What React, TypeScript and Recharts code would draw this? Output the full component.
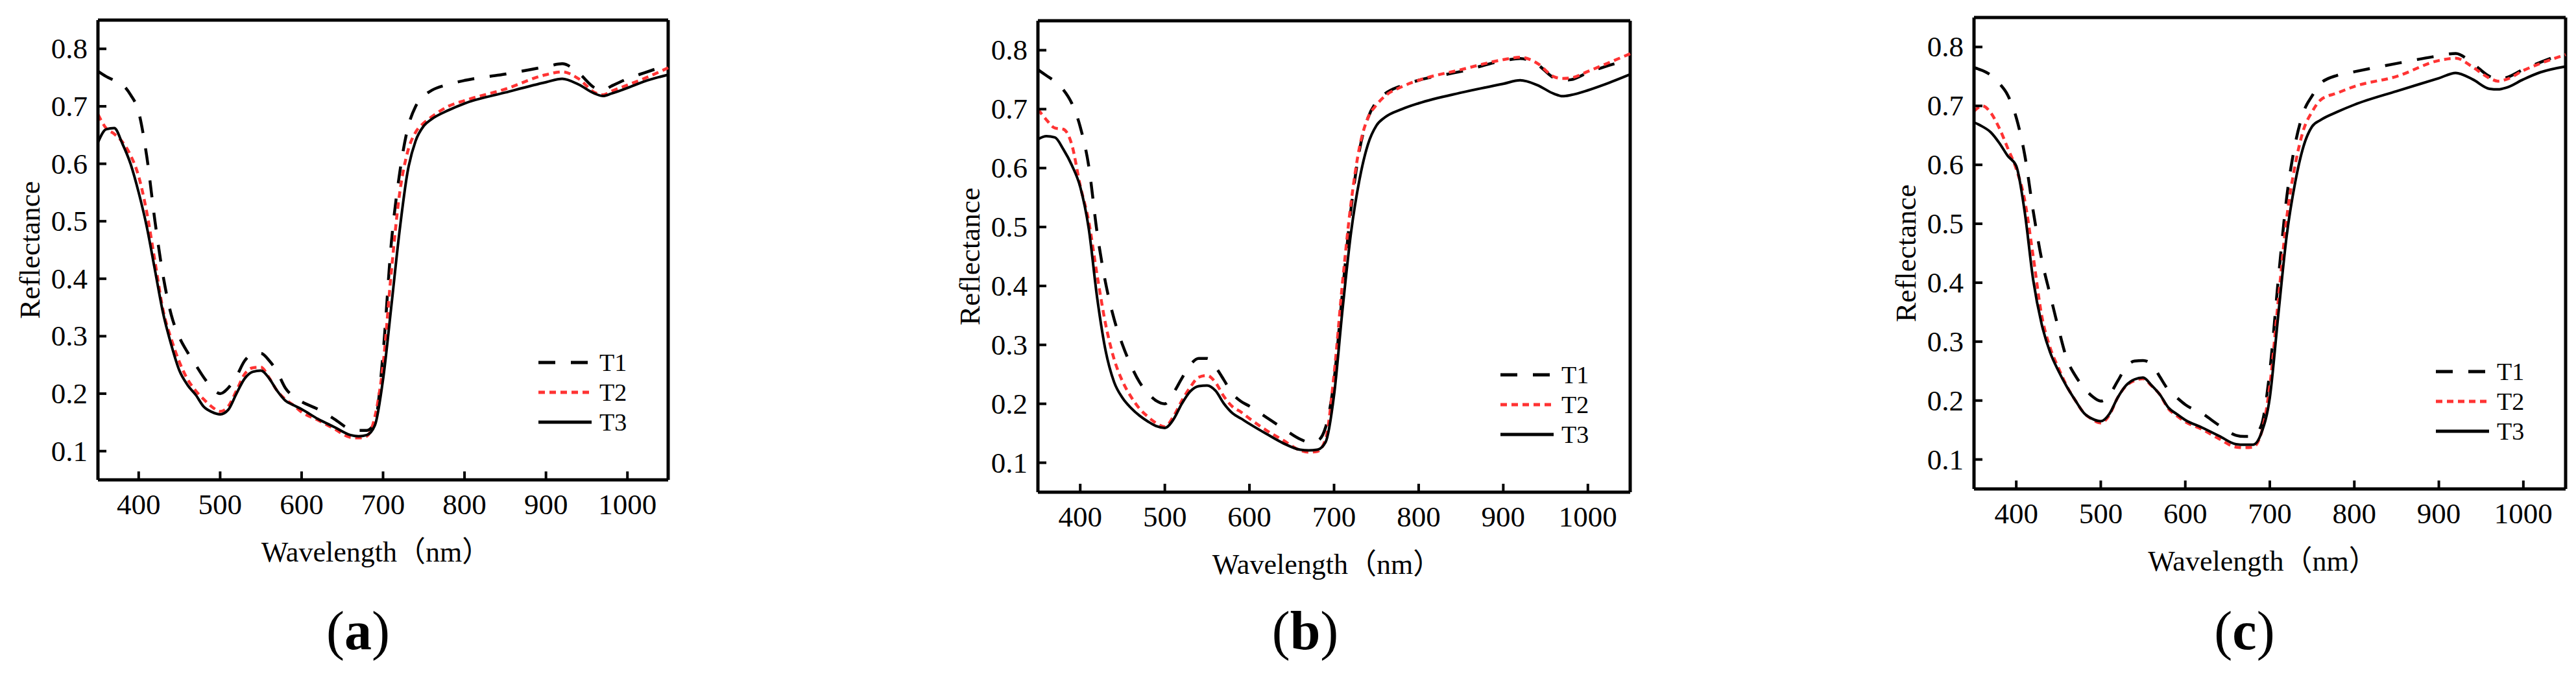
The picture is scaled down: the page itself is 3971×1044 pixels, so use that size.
import { LineChart, Line, XAxis, YAxis, Legend, ReferenceLine } from "recharts";

// wavelength grid (nm), shared by all three panels
const WAVELENGTH = [
  350, 360, 370, 380, 390, 400, 410, 420, 430, 440, 450, 460, 470, 480, 490, 500, 510, 520, 530, 540,
  550, 560, 570, 580, 590, 600, 620, 640, 660, 670, 680, 690, 700, 710, 720, 730, 740, 750, 760, 780,
  800, 850, 900, 920, 940, 960, 970, 980, 1000, 1020, 1050,
];
const X_TICKS = [400, 500, 600, 700, 800, 900, 1000];
const Y_TICKS = [0.1, 0.2, 0.3, 0.4, 0.5, 0.6, 0.7, 0.8];
const X_DOMAIN = [350, 1050];
const Y_DOMAIN = [0.05, 0.85];

// (a)
const A_T1 = [
  0.761, 0.752, 0.745, 0.738, 0.72, 0.69, 0.612, 0.5, 0.405, 0.337, 0.298, 0.272, 0.25, 0.228, 0.21, 0.2, 0.21, 0.23, 0.257, 0.269,
  0.27, 0.258, 0.238, 0.21, 0.195, 0.186, 0.173, 0.156, 0.138, 0.136, 0.136, 0.15, 0.27, 0.46, 0.58, 0.66, 0.7, 0.718, 0.728, 0.738,
  0.745, 0.756, 0.769, 0.774, 0.758, 0.732, 0.728, 0.735, 0.748, 0.758, 0.772,
];
const A_T2 = [
  0.686, 0.662, 0.652, 0.638, 0.615, 0.578, 0.515, 0.43, 0.345, 0.295, 0.255, 0.225, 0.205, 0.19, 0.177, 0.169, 0.178, 0.205, 0.234, 0.245,
  0.246, 0.228, 0.205, 0.19, 0.18, 0.168, 0.154, 0.139, 0.124, 0.123, 0.126, 0.16, 0.25, 0.41, 0.545, 0.62, 0.655, 0.671, 0.682, 0.7,
  0.71, 0.73, 0.755, 0.76, 0.748, 0.724, 0.72, 0.726, 0.737, 0.748, 0.767,
];
const A_T3 = [
  0.637, 0.66, 0.662, 0.635, 0.6, 0.55, 0.49, 0.415, 0.34, 0.285, 0.24, 0.215, 0.198, 0.177, 0.168, 0.164, 0.172, 0.2, 0.226, 0.238,
  0.24, 0.227, 0.205, 0.188, 0.18, 0.173, 0.156, 0.142, 0.128, 0.126, 0.128, 0.145, 0.225, 0.35, 0.48, 0.585, 0.64, 0.666, 0.678, 0.693,
  0.705, 0.724, 0.742, 0.748, 0.738, 0.722, 0.718, 0.722, 0.732, 0.743, 0.755,
];

// (b)
const B_T1 = [
  0.767, 0.757, 0.747, 0.733, 0.71, 0.67, 0.604, 0.49, 0.405, 0.344, 0.3, 0.265, 0.237, 0.218, 0.205, 0.2, 0.218, 0.243, 0.266, 0.277,
  0.277, 0.262, 0.24, 0.217, 0.204, 0.196, 0.177, 0.158, 0.14, 0.135, 0.137, 0.16, 0.24, 0.39, 0.53, 0.63, 0.685, 0.712, 0.726, 0.74,
  0.749, 0.764, 0.782, 0.786, 0.776, 0.753, 0.749, 0.75, 0.762, 0.772, 0.784,
];
const B_T2 = [
  0.7, 0.682, 0.668, 0.666, 0.64, 0.57, 0.51, 0.418, 0.335, 0.276, 0.238, 0.212, 0.192, 0.178, 0.167, 0.161, 0.178, 0.205, 0.228, 0.245,
  0.248, 0.236, 0.212, 0.195, 0.186, 0.175, 0.155, 0.138, 0.121, 0.118, 0.119, 0.14, 0.25, 0.406, 0.54, 0.635, 0.685, 0.707, 0.722, 0.738,
  0.749, 0.767, 0.784, 0.788, 0.778, 0.755, 0.752, 0.753, 0.764, 0.776, 0.794,
];
const B_T3 = [
  0.649, 0.654, 0.652, 0.632, 0.605, 0.568, 0.498, 0.38, 0.29, 0.237, 0.21, 0.193, 0.18, 0.17, 0.162, 0.159, 0.173, 0.2, 0.221, 0.23,
  0.231, 0.222, 0.2, 0.184, 0.175, 0.166, 0.149, 0.133, 0.122, 0.121, 0.122, 0.135, 0.215, 0.36, 0.49, 0.58, 0.64, 0.672, 0.686, 0.7,
  0.71, 0.728, 0.743, 0.749, 0.741, 0.726, 0.722, 0.724, 0.732, 0.742, 0.759,
];

// (c)
const C_T1 = [
  0.765, 0.76, 0.752, 0.738, 0.718, 0.68, 0.617, 0.522, 0.44, 0.38, 0.322, 0.27, 0.242, 0.222, 0.207, 0.199, 0.209, 0.233, 0.257, 0.267,
  0.268, 0.262, 0.24, 0.218, 0.205, 0.193, 0.178, 0.158, 0.141, 0.139, 0.139, 0.158, 0.25, 0.405, 0.545, 0.635, 0.69, 0.717, 0.738, 0.752,
  0.758, 0.772, 0.785, 0.789, 0.772, 0.75, 0.745, 0.748, 0.762, 0.774, 0.79,
];
const C_T2 = [
  0.691, 0.7, 0.688, 0.662, 0.628, 0.593, 0.54, 0.445, 0.345, 0.29, 0.255, 0.224, 0.2, 0.179, 0.168, 0.162, 0.175, 0.205, 0.225, 0.234,
  0.237, 0.225, 0.21, 0.186, 0.174, 0.164, 0.151, 0.135, 0.121, 0.12, 0.121, 0.145, 0.225, 0.37, 0.51, 0.6, 0.66, 0.69, 0.71, 0.722,
  0.733, 0.75, 0.777, 0.781, 0.766, 0.747, 0.742, 0.745, 0.76, 0.772, 0.787,
];
const C_T3 = [
  0.672, 0.665, 0.655, 0.637, 0.615, 0.598, 0.52, 0.405, 0.33, 0.282, 0.25, 0.223, 0.2, 0.179, 0.169, 0.165, 0.177, 0.205, 0.226, 0.236,
  0.239, 0.226, 0.21, 0.188, 0.177, 0.167, 0.154, 0.14, 0.126, 0.125, 0.125, 0.145, 0.205, 0.345, 0.48, 0.57, 0.632, 0.665, 0.676, 0.69,
  0.702, 0.725, 0.747, 0.756, 0.745, 0.729, 0.728, 0.731, 0.745, 0.757, 0.767,
];

const FONT = '"Liberation Serif", "Times New Roman", "Noto Sans CJK SC", serif';
const RED = "#FF3333";

const SERIES = [
  { key: "T1", color: "#000", dash: "26 24", width: 4.5 },
  { key: "T2", color: RED, dash: "10 7", width: 4.5 },
  { key: "T3", color: "#000", dash: undefined, width: 4 },
];

const rows = (t1: number[], t2: number[], t3: number[]) =>
  WAVELENGTH.map((w, i) => ({ w, T1: t1[i], T2: t2[i], T3: t3[i] }));

// plot boxes in page pixels
const PANELS = [
  { id: "a", data: rows(A_T1, A_T2, A_T3), box: { left: 151, top: 31, right: 1030, bottom: 740 }, capX: 552 },
  { id: "b", data: rows(B_T1, B_T2, B_T3), box: { left: 1600, top: 32, right: 2513, bottom: 759 }, capX: 2012 },
  { id: "c", data: rows(C_T1, C_T2, C_T3), box: { left: 3043, top: 27, right: 3955, bottom: 754 }, capX: 3460 },
];

const Y_W = 150;
const X_H = 170;
const M_TOP = 10;
const M_RIGHT = 12;
const AXIS = { stroke: "#000", strokeWidth: 5 };

function XTick(props: any) {
  const { x, y, payload } = props;
  return (
    <g>
      <line x1={x} x2={x} y1={y} y2={y - 13} stroke="#000" strokeWidth={4} />
      <text x={x} y={y + 38} textAnchor="middle" dominantBaseline="central" fontSize={45} fontFamily={FONT} fill="#000">
        {payload.value}
      </text>
    </g>
  );
}

function YTick(props: any) {
  const { x, y, payload } = props;
  return (
    <g>
      <line x1={x} x2={x + 13} y1={y} y2={y} stroke="#000" strokeWidth={4} />
      <text x={x - 16} y={y} textAnchor="end" dominantBaseline="central" fontSize={45} fontFamily={FONT} fill="#000">
        {Number(payload.value).toFixed(1)}
      </text>
    </g>
  );
}

function XLabel(props: any) {
  const vb = props.viewBox || {};
  const cx = (vb.x ?? 0) + (vb.width ?? 0) / 2 - 11;
  const cy = (vb.y ?? 0) + 111;
  return (
    <text x={cx} y={cy} textAnchor="middle" dominantBaseline="central" fontSize={44} fontFamily={FONT} fill="#000">
      Wavelength（nm）
    </text>
  );
}

function YLabel(props: any) {
  const vb = props.viewBox || {};
  const cx = (vb.x ?? 0) + 45;
  const cy = (vb.y ?? 0) + (vb.height ?? 0) / 2;
  return (
    <text
      x={cx}
      y={cy}
      transform={`rotate(-90 ${cx} ${cy})`}
      textAnchor="middle"
      dominantBaseline="central"
      fontSize={45}
      fontFamily={FONT}
      fill="#000"
    >
      Reflectance
    </text>
  );
}

function LegendBox(props: any) {
  const payload = props.payload || [];
  return (
    <div style={{ fontFamily: FONT, fontSize: 38, color: "#000" }}>
      {payload.map((p: any) => {
        const s = SERIES.find((d) => d.key === p.value) || SERIES[2];
        return (
          <div key={p.value} style={{ display: "flex", alignItems: "center", height: 46 }}>
            <svg width={82} height={10} style={{ display: "block" }}>
              <line x1={0} x2={82} y1={5} y2={5} stroke={s.color} strokeWidth={5} strokeDasharray={s.dash} />
            </svg>
            <span style={{ marginLeft: 12, lineHeight: "46px" }}>{p.value}</span>
          </div>
        );
      })}
    </div>
  );
}

function Panel({ data, box }: { data: any[]; box: { left: number; top: number; right: number; bottom: number } }) {
  const pw = box.right - box.left;
  const ph = box.bottom - box.top;
  const w = Y_W + pw + M_RIGHT;
  const h = M_TOP + ph + X_H;
  const chartLeft = box.left - Y_W;
  const chartTop = box.top - M_TOP;
  return (
    <div style={{ position: "absolute", left: chartLeft, top: chartTop }}>
      <LineChart width={w} height={h} data={data} margin={{ top: M_TOP, right: M_RIGHT, left: 0, bottom: 0 }}>
        <XAxis
          dataKey="w"
          type="number"
          domain={X_DOMAIN}
          ticks={X_TICKS}
          tick={<XTick />}
          tickLine={false}
          tickSize={0}
          tickMargin={0}
          axisLine={AXIS}
          height={X_H}
          label={<XLabel />}
        />
        <YAxis
          type="number"
          domain={Y_DOMAIN}
          ticks={Y_TICKS}
          tick={<YTick />}
          tickLine={false}
          tickSize={0}
          tickMargin={0}
          axisLine={AXIS}
          width={Y_W}
          label={<YLabel />}
        />
        {/* top and right sides of the frame */}
        <ReferenceLine y={Y_DOMAIN[1]} stroke="#000" strokeWidth={5} ifOverflow="extendDomain" />
        <ReferenceLine x={X_DOMAIN[1]} stroke="#000" strokeWidth={5} ifOverflow="extendDomain" />
        <Legend
          content={<LegendBox />}
          layout="vertical"
          align="center"
          verticalAlign="middle"
          wrapperStyle={{ left: box.right - 200 - chartLeft, top: box.bottom - 204 - chartTop, width: "auto", height: "auto" }}
        />
        {SERIES.map((s) => (
          <Line
            key={s.key}
            dataKey={s.key}
            name={s.key}
            type="monotone"
            stroke={s.color}
            strokeWidth={s.width}
            strokeDasharray={s.dash}
            dot={false}
            activeDot={false}
            isAnimationActive={false}
          />
        ))}
      </LineChart>
    </div>
  );
}

export default function App() {
  return (
    <div style={{ position: "absolute", left: 0, top: 0, width: 3971, height: 1044, background: "#fff", overflow: "hidden" }}>
      {PANELS.map((p) => (
        <Panel key={p.id} data={p.data} box={p.box} />
      ))}
      {PANELS.map((p) => (
        <div
          key={"cap" + p.id}
          style={{
            position: "absolute",
            left: p.capX - 100,
            top: 972 - 50,
            width: 200,
            height: 100,
            display: "flex",
            alignItems: "center",
            justifyContent: "center",
            fontFamily: FONT,
            fontSize: 84,
            color: "#000",
          }}
        >
          (<b>{p.id}</b>)
        </div>
      ))}
    </div>
  );
}
